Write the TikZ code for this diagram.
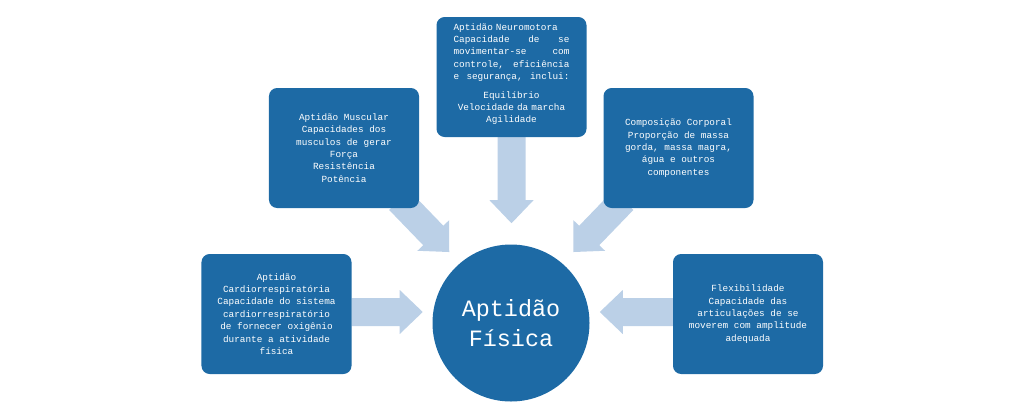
\documentclass[tikz,border=0pt]{standalone}
\usepackage{fontspec}
\setmonofont{Liberation Mono}
\usetikzlibrary{calc,backgrounds}
\definecolor{boxblue}{HTML}{1D6AA5}
\definecolor{arrowblue}{HTML}{BBD0E7}
% block arrow: tail point, angle, length
\newcommand{\fatarrow}[3]{%
\begin{scope}[shift={#1},rotate=#2]
\fill[arrowblue] (0,-14)--(#3-23,-14)--(#3-23,-22)--(#3,0)--(#3-23,22)--(#3-23,14)--(0,14)--cycle;
\end{scope}}
\begin{document}
\begin{tikzpicture}[x=0.03cm, y=-0.03cm,
  box/.style={fill=boxblue, rounded corners=7pt, minimum width=4.5cm, minimum height=3.6cm,
    text=white, font=\ttfamily\fontsize{8}{10.6}\selectfont, align=center, inner sep=2pt},
  hub/.style={circle, fill=boxblue, minimum size=4.71cm, inner sep=0pt,
    text=white, font=\ttfamily\fontsize{20}{25.5}\selectfont, align=center}]
\useasboundingbox (0,0) rectangle (1024,412);

\node[box, text width=99pt, align=left] (neuro) at (511.5,77)
  {Aptidão Neuromotora\\
   Capacidade\hfill de\hfill se\\
   movimentar-se\hfill com\\
   controle,\hfill eficiência\\
   e\hfill segurança,\hfill inclui:\par\vspace{5pt}
   {\centering Equilíbrio\\Velocidade da marcha\\Agilidade\par}\vspace{5pt}};
\node[box] (musc) at (344,148)
  {Aptidão Muscular\\Capacidades dos\\musculos de gerar\\Força\\Resistência\\Potência};
\node[box] (comp) at (678.5,148)
  {Composição Corporal\\Proporção de massa\\gorda, massa magra,\\água e outros\\componentes};
\node[box] (cardio) at (276.5,314)
  {Aptidão\\Cardiorrespiratória\\Capacidade do sistema\\cardiorrespiratório\\de fornecer oxigênio\\durante a atividade\\física};
\node[box] (flex) at (748,314)
  {Flexibilidade\\Capacidade das\\articulações de se\\moverem com amplitude\\adequada};
\node[hub] (fit) at (511,323) {Aptidão\\Física};

\begin{scope}[on background layer]
\fatarrow{(neuro.south)}{-90}{86}
\fatarrow{($(musc.south east)+(-20,-8)$)}{-46}{72}
\fatarrow{($(comp.south west)+(20,-8)$)}{-134}{72}
\fatarrow{($(cardio.east)+(0,-2)$)}{0}{71}
\fatarrow{($(flex.west)+(0,-2)$)}{180}{73}
\end{scope}
\end{tikzpicture}
\end{document}
